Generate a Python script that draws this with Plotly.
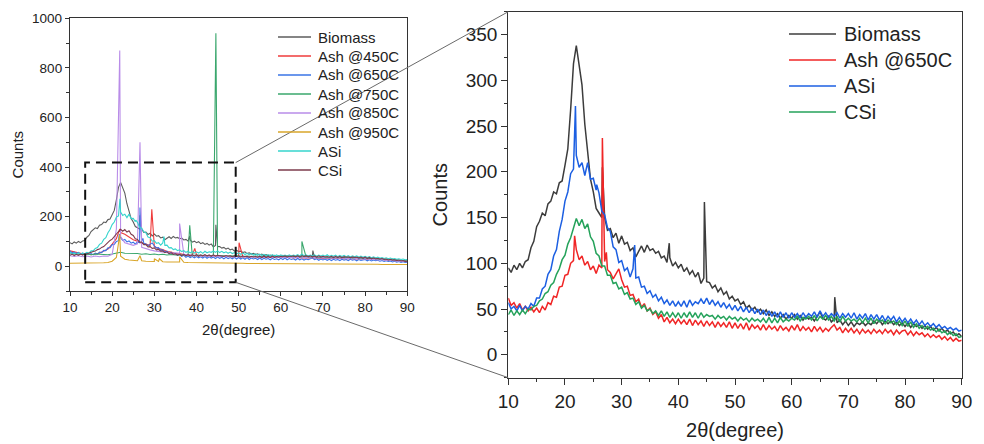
import plotly.graph_objects as go

# ---------------- data ----------------
# 0.5-degree grid, 10..90 (shared by the four samples shown in both panels)
GRID_HALF = [10 + 0.5 * i for i in range(161)]
# 1-degree grid, 10..90 (left-panel-only ash samples)
GRID_ONE = [10 + i for i in range(81)]

BIOMASS = [95, 90, 98, 93, 100, 95, 102, 104, 117, 124,
           140, 146, 155, 152, 165, 168, 178, 176, 188, 190,
           207, 225, 268, 318, 338, 316, 295, 252, 225, 192,
           178, 160, 155, 150, 150, 136, 138, 128, 133, 122,
           130, 121, 123, 114, 117, 107, 113, 119, 112, 120,
           114, 116, 111, 113, 106, 108, 101, 106, 97, 101,
           95, 99, 91, 95, 88, 92, 85, 90, 78, 84,
           80, 79, 73, 76, 69, 73, 66, 69, 61, 64,
           59, 61, 55, 58, 51, 54, 49, 52, 47, 50,
           45, 49, 43, 47, 42, 45, 40, 44, 39, 43,
           40, 44, 39, 43, 38, 42, 39, 41, 37, 42,
           47, 40, 38, 42, 36, 39, 35, 38, 33, 37,
           32, 36, 31, 35, 33, 36, 32, 35, 33, 37,
           34, 38, 33, 37, 34, 37, 33, 36, 32, 35,
           31, 35, 30, 34, 31, 33, 29, 32, 28, 31,
           27, 30, 26, 29, 25, 27, 23, 25, 21, 23,
           20]
BIOMASS_PEAK_X = [26.6, 38.4, 44.6, 67.6]
BIOMASS_PEAK_Y = [205, 122, 167, 63]

ASH650 = [62, 54, 57, 51, 56, 49, 53, 48, 52, 47,
          51, 46, 53, 49, 57, 55, 64, 63, 74, 75,
          87, 88, 100, 103, 115, 104, 108, 98, 102, 93,
          97, 89, 98, 95, 102, 93, 90, 83, 88, 94,
          82, 74, 75, 65, 66, 58, 61, 52, 56, 48,
          51, 44, 47, 40, 44, 36, 41, 35, 39, 34,
          39, 34, 38, 33, 39, 32, 38, 33, 37, 31,
          37, 32, 36, 30, 36, 31, 35, 30, 36, 29,
          35, 29, 34, 28, 35, 27, 33, 29, 32, 27,
          33, 27, 32, 28, 31, 26, 32, 27, 30, 26,
          32, 27, 33, 26, 31, 27, 30, 25, 31, 26,
          30, 25, 29, 26, 30, 33, 27, 30, 24, 29,
          25, 29, 24, 28, 23, 28, 24, 27, 23, 28,
          24, 27, 23, 28, 24, 27, 22, 27, 23, 26,
          27, 22, 26, 21, 25, 22, 24, 20, 23, 19,
          22, 19, 21, 17, 20, 16, 19, 15, 18, 15,
          16]
ASH650_PEAK_X = [21.7, 26.6, 27.3]
ASH650_PEAK_Y = [130, 237, 112]

ASI = [57, 50, 53, 48, 54, 48, 53, 50, 56, 53,
       62, 62, 72, 75, 88, 93, 108, 115, 135, 148,
       168, 178, 198, 203, 218, 205, 210, 196, 210, 192,
       193, 180, 177, 157, 153, 139, 135, 118, 115, 101,
       103, 92, 95, 85, 94, 84, 85, 74, 75, 67,
       70, 63, 66, 59, 63, 56, 60, 54, 59, 53,
       58, 53, 59, 52, 60, 54, 58, 56, 61, 56,
       62, 55, 60, 54, 58, 52, 57, 51, 55, 49,
       54, 48, 53, 47, 52, 46, 51, 45, 50, 44,
       49, 43, 48, 42, 47, 41, 47, 41, 46, 40,
       46, 41, 45, 40, 46, 41, 45, 42, 47, 41,
       48, 42, 46, 41, 45, 42, 46, 40, 45, 41,
       45, 40, 46, 39, 44, 40, 45, 38, 44, 39,
       44, 38, 43, 37, 42, 38, 42, 36, 41, 36,
       40, 35, 39, 34, 38, 33, 37, 32, 35, 31,
       34, 30, 33, 29, 31, 28, 30, 27, 29, 26,
       27]
ASI_PEAK_X = [21.85, 25.6, 32.3]
ASI_PEAK_Y = [272, 186, 120]

CSI = [44, 49, 43, 48, 44, 49, 45, 50, 49, 53,
       54, 59, 61, 67, 69, 76, 79, 88, 94, 104,
       109, 121, 128, 140, 149, 141, 148, 138, 143, 129,
       124, 111, 108, 97, 97, 87, 87, 78, 79, 72,
       74, 66, 68, 61, 62, 55, 58, 51, 54, 48,
       50, 45, 48, 43, 48, 42, 47, 41, 46, 41,
       46, 40, 46, 41, 47, 41, 46, 40, 46, 41,
       44, 42, 43, 39, 43, 40, 42, 38, 42, 39,
       41, 37, 41, 38, 40, 36, 40, 37, 39, 36,
       40, 35, 41, 35, 40, 35, 41, 36, 39, 37,
       40, 38, 42, 37, 41, 39, 42, 38, 43, 37,
       42, 39, 43, 38, 42, 37, 42, 36, 42, 37,
       40, 37, 39, 36, 40, 35, 40, 35, 40, 34,
       39, 36, 38, 34, 38, 35, 37, 33, 37, 32,
       37, 31, 36, 30, 34, 29, 32, 28, 31, 27,
       29, 25, 28, 24, 26, 22, 25, 21, 23, 19,
       20]

ASH450 = [62, 57, 54, 50, 50, 46, 49, 52, 61, 69,
          89, 111, 136, 129, 119, 107, 101, 93, 89, 83,
          79, 71, 67, 59, 57, 51, 51, 47, 47, 44,
          45, 42, 44, 41, 43, 40, 42, 39, 41, 38,
          40, 37, 39, 37, 38, 36, 38, 35, 37, 35,
          36, 34, 36, 33, 35, 33, 34, 32, 34, 31,
          33, 31, 32, 30, 32, 29, 31, 29, 30, 28,
          29, 27, 28, 26, 27, 24, 25, 22, 23, 20,
          20]
ASH450_PEAK_X = [21.8, 29.4, 39.6, 50.1]
ASH450_PEAK_Y = [150, 230, 72, 95]

ASH750 = [50, 48, 49, 47, 49, 46, 49, 47, 48, 46,
          49, 52, 56, 52, 52, 49, 51, 48, 50, 47,
          49, 46, 48, 45, 47, 45, 46, 44, 46, 43,
          45, 43, 44, 42, 44, 41, 43, 41, 42, 40,
          42, 39, 41, 39, 41, 38, 40, 38, 40, 37,
          39, 37, 39, 36, 38, 36, 37, 35, 37, 34,
          36, 34, 35, 33, 35, 32, 34, 31, 33, 30,
          32, 29, 30, 27, 28, 25, 26, 23, 24, 21,
          20]
ASH750_PEAK_X = [38.4, 44.6, 65.0]
ASH750_PEAK_Y = [165, 940, 100]

ASH850 = [42, 39, 42, 38, 41, 37, 41, 38, 41, 40,
          48, 150, 120, 95, 88, 84, 90, 76, 70, 66,
          62, 60, 57, 55, 52, 54, 52, 48, 46, 44,
          43, 40, 42, 39, 41, 38, 40, 38, 39, 37,
          39, 37, 38, 36, 38, 36, 37, 35, 37, 35,
          37, 34, 36, 34, 36, 33, 35, 33, 35, 32,
          34, 32, 33, 31, 33, 30, 32, 29, 31, 28,
          30, 27, 28, 25, 27, 23, 25, 21, 22, 19,
          18]
ASH850_PEAK_X = [21.8, 26.6, 36.0]
ASH850_PEAK_Y = [870, 500, 172]

ASH950 = [12, 12, 11, 12, 12, 12, 13, 13, 14, 15,
          20, 35, 40, 28, 25, 23, 22, 22, 20, 20,
          19, 19, 18, 17, 17, 18, 17, 16, 15, 15,
          14, 14, 14, 13, 13, 13, 13, 12, 12, 12,
          12, 12, 11, 11, 11, 11, 11, 11, 10, 10,
          10, 10, 10, 10, 10, 10, 10, 9, 9, 9,
          9, 9, 9, 9, 9, 8, 8, 8, 8, 8,
          8, 8, 8, 8, 7, 7, 7, 7, 7, 7,
          7]
ASH950_PEAK_X = [21.8, 26.6, 30.0, 31.2, 36.0]
ASH950_PEAK_Y = [128, 42, 30, 30, 38]

LEFT_NAMES = ["Biomass", "Ash @450C", "Ash @650C", "Ash @750C",
              "Ash @850C", "Ash @950C", "ASi", "CSi"]
RIGHT_NAMES = ["Biomass", "Ash @650C", "ASi", "CSi"]

X_TICKS = [10, 20, 30, 40, 50, 60, 70, 80, 90]
LEFT_Y_TICKS = [0, 200, 400, 600, 800, 1000]
RIGHT_Y_TICKS = [0, 50, 100, 150, 200, 250, 300, 350]

# zoom box (data coords of left panel)
ZOOM_X = [13.6, 49.3]
ZOOM_Y = [-65, 418]


def merge(xg, yg, px=(), py=()):
    pts = sorted(list(zip(xg, yg)) + list(zip(px, py)))
    return [p[0] for p in pts], [p[1] for p in pts]


W, H = 984, 444
FONT = "Arial, Liberation Sans, Helvetica, sans-serif"

# plot areas in pixels
L_X0, L_X1, L_Y0, L_Y1 = 70, 407.3, 18.3, 291
R_X0, R_X1, R_Y0, R_Y1 = 508.3, 961.7, 11.7, 377.7
L_RANGE_Y = [-100, 1000]
R_RANGE_Y = [-25, 375]

left_dom_x = [L_X0 / W, L_X1 / W]
left_dom_y = [1 - L_Y1 / H, 1 - L_Y0 / H]
right_dom_x = [R_X0 / W, R_X1 / W]
right_dom_y = [1 - R_Y1 / H, 1 - R_Y0 / H]

left_series = {
    "Biomass": (merge(GRID_HALF, BIOMASS, BIOMASS_PEAK_X, BIOMASS_PEAK_Y), "#5c5c5c"),
    "Ash @450C": (merge(GRID_ONE, ASH450, ASH450_PEAK_X, ASH450_PEAK_Y), "#ef3b3b"),
    "Ash @650C": (merge(GRID_HALF, ASH650, ASH650_PEAK_X, ASH650_PEAK_Y), "#3a74e6"),
    "Ash @750C": (merge(GRID_ONE, ASH750, ASH750_PEAK_X, ASH750_PEAK_Y), "#3aa76d"),
    "Ash @850C": (merge(GRID_ONE, ASH850, ASH850_PEAK_X, ASH850_PEAK_Y), "#b98ce8"),
    "Ash @950C": (merge(GRID_ONE, ASH950, ASH950_PEAK_X, ASH950_PEAK_Y), "#d9a62a"),
    "ASi": (merge(GRID_HALF, ASI, ASI_PEAK_X, ASI_PEAK_Y), "#36d4cd"),
    "CSi": (merge(GRID_HALF, CSI), "#7d3b4d"),
}
right_series = {
    "Biomass": (merge(GRID_HALF, BIOMASS, BIOMASS_PEAK_X, BIOMASS_PEAK_Y), "#3c3c3c"),
    "Ash @650C": (merge(GRID_HALF, ASH650, ASH650_PEAK_X, ASH650_PEAK_Y), "#f02626"),
    "ASi": (merge(GRID_HALF, ASI, ASI_PEAK_X, ASI_PEAK_Y), "#1c5fe2"),
    "CSi": (merge(GRID_HALF, CSI), "#24a25a"),
}

fig = go.Figure()
for name in LEFT_NAMES:
    (xs, ys), col = left_series[name]
    fig.add_trace(go.Scatter(x=xs, y=ys, mode="lines", name=name,
                             line=dict(color=col, width=1.1), xaxis="x", yaxis="y",
                             showlegend=False))
for name in RIGHT_NAMES:
    (xs, ys), col = right_series[name]
    fig.add_trace(go.Scatter(x=xs, y=ys, mode="lines", name=name,
                             line=dict(color=col, width=1.5), xaxis="x2", yaxis="y2",
                             showlegend=False))

axis_common = dict(showgrid=False, zeroline=False, showline=True, mirror=True,
                   linecolor="#333333", linewidth=1.3, ticks="outside",
                   tickcolor="#333333", tickwidth=1.2)

fig.update_layout(
    width=W, height=H,
    margin=dict(l=0, r=0, t=0, b=0, autoexpand=False),
    paper_bgcolor="white", plot_bgcolor="white",
    font=dict(family=FONT, color="#222222"),
    showlegend=False,
    xaxis=dict(domain=left_dom_x, range=[10, 90], anchor="y",
               tickvals=X_TICKS, ticklen=4, tickfont=dict(size=13.5),
               minor=dict(dtick=5, tick0=10, ticks="outside", ticklen=2.5, tickcolor="#333333"),
               title=dict(text="2θ(degree)", font=dict(size=15), standoff=10),
               **axis_common),
    yaxis=dict(domain=left_dom_y, range=L_RANGE_Y, anchor="x",
               tickvals=LEFT_Y_TICKS, ticklen=4, tickfont=dict(size=13.5),
               minor=dict(dtick=100, tick0=0, ticks="outside", ticklen=2.5, tickcolor="#333333"),
               title=dict(text="Counts", font=dict(size=15), standoff=4),
               **axis_common),
    xaxis2=dict(domain=right_dom_x, range=[10, 90], anchor="y2",
                tickvals=X_TICKS, ticklen=6, tickfont=dict(size=19),
                minor=dict(dtick=5, tick0=10, ticks="outside", ticklen=3.5, tickcolor="#333333"),
                title=dict(text="2θ(degree)", font=dict(size=20), standoff=12),
                **axis_common),
    yaxis2=dict(domain=right_dom_y, range=R_RANGE_Y, anchor="x2",
                tickvals=RIGHT_Y_TICKS, ticklen=6, tickfont=dict(size=19),
                minor=dict(dtick=25, tick0=0, ticks="outside", ticklen=3.5, tickcolor="#333333"),
                title=dict(text="Counts", font=dict(size=20), standoff=12),
                **axis_common),
)

shapes = []
annotations = []

# dashed zoom rectangle on the left panel
shapes.append(dict(type="rect", xref="x", yref="y",
                   x0=ZOOM_X[0], x1=ZOOM_X[1], y0=ZOOM_Y[0], y1=ZOOM_Y[1],
                   line=dict(color="#111111", width=2, dash="10px,6px"),
                   fillcolor="rgba(0,0,0,0)"))


def lx_to_paper(v):
    return left_dom_x[0] + (v - 10) / 80 * (left_dom_x[1] - left_dom_x[0])


def ly_to_paper(v):
    return left_dom_y[0] + (v - L_RANGE_Y[0]) / (L_RANGE_Y[1] - L_RANGE_Y[0]) * (left_dom_y[1] - left_dom_y[0])


# connector lines from the zoom box to the enlarged panel
shapes.append(dict(type="line", xref="paper", yref="paper",
                   x0=lx_to_paper(ZOOM_X[1]), y0=ly_to_paper(ZOOM_Y[1]),
                   x1=right_dom_x[0], y1=right_dom_y[1],
                   line=dict(color="#6a6a6a", width=1)))
shapes.append(dict(type="line", xref="paper", yref="paper",
                   x0=lx_to_paper(ZOOM_X[1]), y0=ly_to_paper(ZOOM_Y[0]),
                   x1=right_dom_x[0], y1=right_dom_y[0],
                   line=dict(color="#6a6a6a", width=1)))

# legend keys (left panel)
for i, name in enumerate(LEFT_NAMES):
    col = left_series[name][1]
    ypx = 37 + 19 * i
    shapes.append(dict(type="line", xref="paper", yref="paper",
                       x0=278 / W, x1=311 / W, y0=1 - ypx / H, y1=1 - ypx / H,
                       line=dict(color=col, width=1.3)))
    annotations.append(dict(xref="paper", yref="paper", x=316 / W, y=1 - ypx / H,
                            text=name, showarrow=False, xanchor="left", yanchor="middle",
                            font=dict(size=15, color="#222222")))

# legend keys (right panel)
for i, name in enumerate(RIGHT_NAMES):
    col = right_series[name][1]
    ypx = 34 + 26 * i
    shapes.append(dict(type="line", xref="paper", yref="paper",
                       x0=789 / W, x1=836 / W, y0=1 - ypx / H, y1=1 - ypx / H,
                       line=dict(color=col, width=1.6)))
    annotations.append(dict(xref="paper", yref="paper", x=842 / W, y=1 - ypx / H,
                            text=name, showarrow=False, xanchor="left", yanchor="middle",
                            font=dict(size=20, color="#222222")))

fig.update_layout(shapes=shapes, annotations=annotations)
fig.write_html("out.html", config={"displayModeBar": False},
               post_script="document.body.style.margin='0px';")
